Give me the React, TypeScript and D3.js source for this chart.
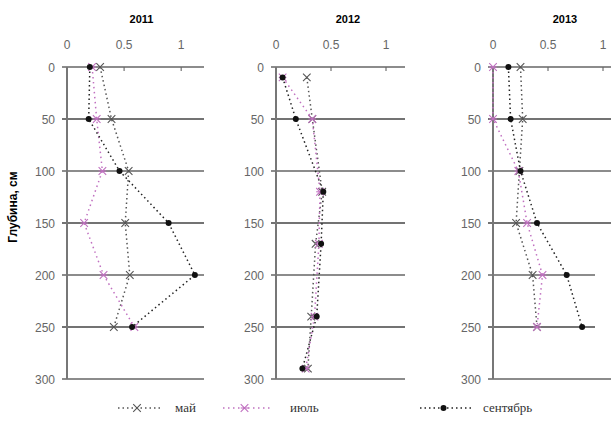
import * as d3 from "d3";

// depth values (cm) and readings per year
const depths2011 = [0, 50, 100, 150, 200, 250];
const may2011 = [0.29, 0.39, 0.54, 0.51, 0.55, 0.41];
const jul2011 = [0.22, 0.26, 0.31, 0.15, 0.32, 0.59];
const sep2011 = [0.2, 0.19, 0.46, 0.89, 1.12, 0.57];

const depths2012 = [10, 50, 120, 170, 240, 290];
const may2012 = [0.28, 0.33, 0.42, 0.36, 0.32, 0.29];
const jul2012 = [0.06, 0.33, 0.4, 0.39, 0.35, 0.27];
const sep2012 = [0.06, 0.18, 0.43, 0.41, 0.37, 0.24];

const depths2013 = [0, 50, 100, 150, 200, 250];
const may2013 = [0.25, 0.27, 0.24, 0.21, 0.36, 0.4];
const jul2013 = [0.0, 0.0, 0.23, 0.31, 0.45, 0.4];
const sep2013 = [0.14, 0.16, 0.25, 0.4, 0.67, 0.81];

const xTicks = [0, 0.5, 1];
const yTicks = [0, 50, 100, 150, 200, 250, 300];
const seriesNames = ["май", "июль", "сентябрь"];

const panels = [
  { title: "2011", depths: depths2011, values: [may2011, jul2011, sep2011], left: 67, right: 204, gridEnd: [204, 204, 204, 204, 204, 204, 204] },
  { title: "2012", depths: depths2012, values: [may2012, jul2012, sep2012], left: 276, right: 408, gridEnd: [405, 405, 405, 405, 405, 405, 405] },
  { title: "2013", depths: depths2013, values: [may2013, jul2013, sep2013], left: 493, right: 625, gridEnd: [611, 611, 611, 611, 595, 595, 611] },
];

const styles = [
  { color: "#555", dash: "1.5,3", marker: "x" },
  { color: "#c070c0", dash: "1.5,3.5", marker: "star" },
  { color: "#222", dash: "1.5,3", marker: "dot" },
];

const y = d3.scaleLinear().domain([0, 300]).range([67, 379]);

function Marker({ kind, cx, cy, color }: { kind: string; cx: number; cy: number; color: string }) {
  if (kind === "dot") return <circle cx={cx} cy={cy} r={3} fill="#111" />;
  const s = 3.8;
  const cross = (
    <path
      d={`M${cx - s},${cy - s}L${cx + s},${cy + s}M${cx - s},${cy + s}L${cx + s},${cy - s}`}
      stroke={color}
      strokeWidth={1.1}
    />
  );
  if (kind === "x") return cross;
  return (
    <g>
      {cross}
      <path d={`M${cx - s},${cy}L${cx + s},${cy}`} stroke={color} strokeWidth={1.1} />
    </g>
  );
}

function Panel({ p }: { p: (typeof panels)[number] }) {
  const x = d3.scaleLinear().domain([0, 1.2]).range([p.left, p.right]);
  const x0 = x(0);
  return (
    <g>
      <text x={(x(0) + x(1.2)) / 2 + 6} y={23} textAnchor="middle" fontFamily="Liberation Sans, Arial" fontWeight="bold" fontSize={11}>
        {p.title}
      </text>
      {xTicks.map((t) => (
        <g key={t}>
          <text x={x(t)} y={49} textAnchor="middle" fontFamily="Liberation Sans, Arial" fontSize={12} fill="#666">
            {t}
          </text>
          {t > 0 && <line x1={x(t)} x2={x(t)} y1={y(0)} y2={y(0) + 4} stroke="#555" />}
        </g>
      ))}
      {yTicks.map((t, i) => (
        <g key={t}>
          <line x1={x0 - 5} x2={p.gridEnd[i]} y1={y(t)} y2={y(t)} stroke={i % 2 ? "#444" : "#666"} strokeWidth={1.6} />
          <text x={x0 - 12} y={y(t) + 4.5} textAnchor="end" fontFamily="Liberation Sans, Arial" fontSize={12} fill="#666">
            {t}
          </text>
        </g>
      ))}
      <line x1={x0} x2={x0} y1={y(0)} y2={y(300)} stroke="#777" strokeWidth={2} />
      {p.values.map((vals, si) => {
        const st = styles[si];
        const line = d3
          .line<number>()
          .x((v) => x(v))
          .y((_, i) => y(p.depths[i]));
        return (
          <g key={si}>
            <path d={line(vals) || ""} fill="none" stroke={st.color} strokeWidth={1.5} strokeDasharray={st.dash} />
            {vals.map((v, i) => (
              <Marker key={i} kind={st.marker} cx={x(v)} cy={y(p.depths[i])} color={st.color} />
            ))}
          </g>
        );
      })}
    </g>
  );
}

const legendPos = [
  { x1: 118, x2: 162, text: 175 },
  { x1: 223, x2: 272, text: 290 },
  { x1: 420, x2: 473, text: 483 },
];

export default function App() {
  return (
    <svg width={611} height={423} style={{ position: "absolute", left: 0, top: 0, background: "#fff" }}>
      <rect width={611} height={423} fill="#fff" />
      {panels.map((p) => (
        <Panel key={p.title} p={p} />
      ))}
      <text
        transform="translate(17,207) rotate(-90)"
        textAnchor="middle"
        fontFamily="Liberation Sans, Arial"
        fontWeight="bold"
        fontSize={12}
      >
        Глубина, см
      </text>
      {seriesNames.map((name, i) => {
        const lp = legendPos[i];
        const st = styles[i];
        const mx = (lp.x1 + lp.x2) / 2 - 3;
        return (
          <g key={name}>
            <line x1={lp.x1} x2={lp.x2} y1={408} y2={408} stroke={st.color} strokeWidth={1.5} strokeDasharray={st.dash} />
            <Marker kind={st.marker} cx={mx} cy={408} color={st.color} />
            <text x={lp.text} y={412} fontFamily="Liberation Serif, Times New Roman" fontSize={13} fill="#333">
              {name}
            </text>
          </g>
        );
      })}
    </svg>
  );
}
